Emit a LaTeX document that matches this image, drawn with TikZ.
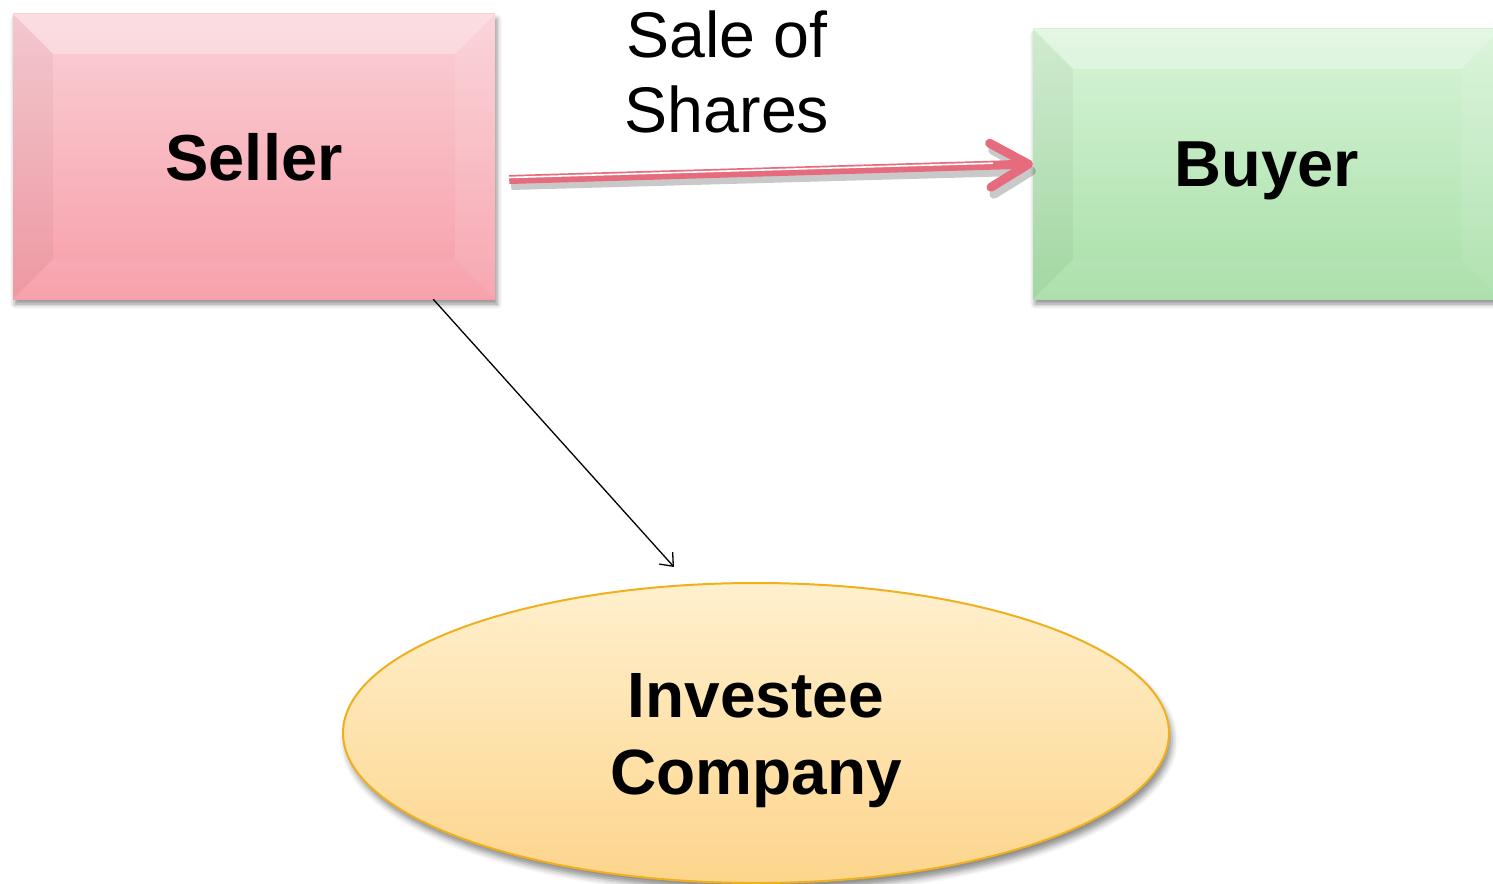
\documentclass[tikz,border=0pt]{standalone}
\usepackage{fontspec}
\setmainfont{Liberation Sans}
\usetikzlibrary{arrows.meta,shapes.geometric,shadows.blur}
\definecolor{selltop}{RGB}{250,208,214}
\definecolor{sellbot}{RGB}{247,158,169}
\definecolor{buytop}{RGB}{216,244,216}
\definecolor{buybot}{RGB}{168,223,168}
\definecolor{elltop}{RGB}{255,240,206}
\definecolor{ellbot}{RGB}{253,213,140}
\definecolor{ellline}{RGB}{240,176,30}
\definecolor{arrowpink}{RGB}{230,108,125}
\newcommand\mybevel[1]{%
  \fill[white,opacity=.3] (#1.north west) -- (#1.north east) -- ([shift={(-40,40)}]#1.north east) -- ([shift={(40,40)}]#1.north west) -- cycle;
  \fill[white,opacity=.05] (#1.south west) -- (#1.south east) -- ([shift={(-40,-40)}]#1.south east) -- ([shift={(40,-40)}]#1.south west) -- cycle;
  \fill[black,opacity=.035] (#1.north west) -- (#1.south west) -- ([shift={(40,-40)}]#1.south west) -- ([shift={(40,40)}]#1.north west) -- cycle;
  \fill[white,opacity=.1] (#1.north east) -- (#1.south east) -- ([shift={(-40,-40)}]#1.south east) -- ([shift={(-40,40)}]#1.north east) -- cycle;
}
\begin{document}
\begin{tikzpicture}[x=1pt,y=-1pt,
  boxnode/.style={rectangle,inner sep=0pt,minimum height=285pt,text depth=0pt,
    font=\fontsize{65}{75}\bfseries\selectfont,
    blur shadow={shadow xshift=2pt,shadow yshift=-5pt,shadow blur radius=5pt,shadow opacity=45}},
  ellnode/.style={ellipse,inner sep=0pt,minimum width=826pt,minimum height=300pt,
    draw=ellline,line width=2pt,top color=elltop,bottom color=ellbot,
    blur shadow={shadow xshift=3pt,shadow yshift=-7pt,shadow blur radius=6pt,shadow opacity=45}},
  biglabel/.style={inner sep=0pt,align=center,font=\fontsize{64}{77}\bfseries\selectfont},
  salelabel/.style={inner sep=0pt,align=center,font=\fontsize{64.5}{75}\selectfont},
  pinkarrow/.style={draw=arrowpink,line width=9pt,-{Straight Barb[length=38pt,width=44pt,line width=9pt,round]}},
  thinarrow/.style={draw=black,line width=1.3pt,-{Straight Barb[length=11pt,width=18pt,line width=1.3pt]}}
]
\useasboundingbox (0,0) rectangle (1493,883);

\node[boxnode,minimum width=482pt,top color=selltop,bottom color=sellbot] (seller) at (254,156.5) {Seller};
\mybevel{seller}
\node[boxnode,minimum width=468pt,minimum height=270pt,top color=buytop,bottom color=buybot] (buyer) at (1267,164) {Buyer};
\mybevel{buyer}

\node[ellnode] (inv) at (756,733) {};
\node[biglabel] (invlabel) at (756,741) {Investee\\Company};

\node[salelabel] (sale) at (727,72) {Sale of\\Shares};

% shadow of the pink arrow
\begin{scope}[transparency group,opacity=.3]
  \draw[pinkarrow,draw=black!70] ([shift={(16,29)}]seller.east) -- ([shift={(3,7)}]buyer.west);
\end{scope}
\draw[pinkarrow] ([shift={(14,23)}]seller.east) -- (buyer.west);
\draw[white,line width=1.6pt,shorten >=40pt] ([shift={(14,21)}]seller.east) -- ([shift={(0,-2)}]buyer.west);

\draw[thinarrow] ([shift={(-62,0)}]seller.south east) -- ([shift={(-82,-15)}]inv.north);
\end{tikzpicture}
\end{document}
